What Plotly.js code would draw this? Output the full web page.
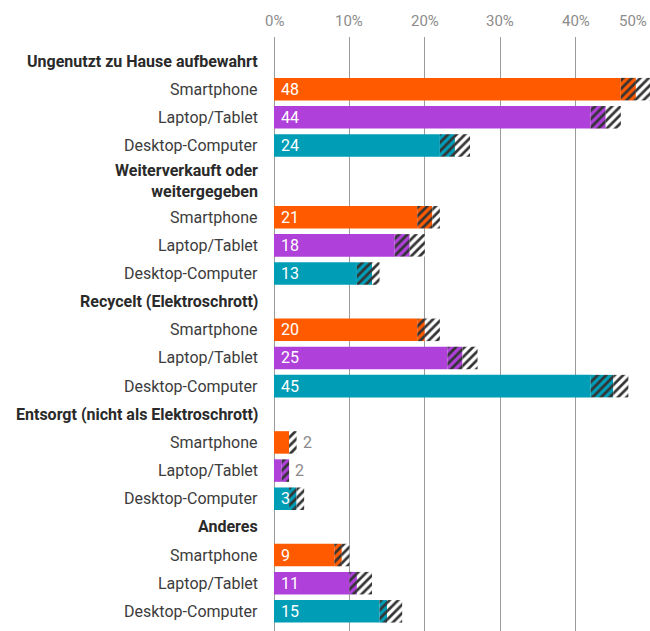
<!DOCTYPE html>
<html>
<head>
<meta charset="utf-8">
<script src="https://cdn.plot.ly/plotly-3.0.1.min.js"></script>
<style>
  html, body { margin: 0; padding: 0; background: #fff; }
  #chart { width: 650px; height: 631px; }
</style>
</head>
<body>
<div id="chart"></div>
<script>
// ---- Data ----
const groups = [
  "Ungenutzt zu Hause aufbewahrt",
  "Weiterverkauft oder\nweitergegeben",
  "Recycelt (Elektroschrott)",
  "Entsorgt (nicht als Elektroschrott)",
  "Anderes"
];
const devices = ["Smartphone", "Laptop/Tablet", "Desktop-Computer"];
const deviceColors = ["#ff5a00", "#b040da", "#009db6"];

// values (%) per group, and the lower / upper bound of each bar's range
const smartphone   = [48, 21, 20, 2, 9];
const smartphoneLo = [46, 19, 19, 2, 8];
const smartphoneHi = [50, 22, 22, 3, 10];

const laptop   = [44, 18, 25, 2, 11];
const laptopLo = [42, 16, 23, 1, 10];
const laptopHi = [46, 20, 27, 2, 13];

const desktop   = [24, 13, 45, 3, 15];
const desktopLo = [22, 11, 42, 2, 14];
const desktopHi = [26, 14, 47, 4, 17];

const tickValues = [0, 10, 20, 30, 40, 50];
const tickLabels = ["0%", "10%", "20%", "30%", "40%", "50%"];

// ---- Layout helpers ----
const W = 650, H = 631;
const M = {l: 274, r: 0, t: 37, b: 0};
const XMAX = 49.87;
const unitPx = 28.15;
const extraPerLine = 0.55;
const font = "Roboto, 'Open Sans', sans-serif";

const series = [
  {v: smartphone, lo: smartphoneLo, hi: smartphoneHi},
  {v: laptop, lo: laptopLo, hi: laptopHi},
  {v: desktop, lo: desktopLo, hi: desktopHi}
];

let pos = 0;
const headerPos = [];
const devY = devices.map(() => []);
groups.forEach((g, gi) => {
  const lines = g.split("\n");
  const extra = (lines.length - 1) * extraPerLine;
  headerPos.push(pos + extra / 2);
  pos += 1 + extra;
  devices.forEach((d, di) => {
    devY[di].push(pos);
    pos += 1;
  });
});

const yTop = -(61 - M.t) / unitPx;
const yBottom = yTop + (H - M.t - M.b) / unitPx;

const traces = [];
const annotations = [];
devices.forEach((d, di) => {
  const s = series[di], c = deviceColors[di], y = devY[di];
  const common = {type: "bar", orientation: "h", y: y, width: 0.8,
                  hoverinfo: "skip", showlegend: false};
  traces.push(Object.assign({}, common, {
    name: d + " solid", x: s.lo, base: 0,
    marker: {color: c, line: {width: 0}}
  }));
  traces.push(Object.assign({}, common, {
    name: d + " range low", x: s.v.map((v, i) => v - s.lo[i]), base: s.lo,
    marker: {color: c, line: {width: 0},
      pattern: {shape: "/", bgcolor: c, fgcolor: "#333333", fgopacity: 1, size: 6, solidity: 0.45}}
  }));
  traces.push(Object.assign({}, common, {
    name: d + " range high", x: s.hi.map((h, i) => h - s.v[i]), base: s.v,
    marker: {color: "#ffffff", line: {width: 0},
      pattern: {shape: "/", bgcolor: "#ffffff", fgcolor: "#333333", fgopacity: 1, size: 6, solidity: 0.45}}
  }));
  y.forEach((yy, gi) => {
    annotations.push({
      xref: "paper", yref: "y", x: 0, y: yy,
      xanchor: "right", yanchor: "middle", xshift: -14,
      text: d, showarrow: false,
      font: {family: font, size: 16, color: "#3c3c3c"}
    });
    const inside = s.v[gi] > 2;
    annotations.push({
      xref: "x", yref: "y", x: inside ? 0 : s.hi[gi], y: yy,
      xanchor: "left", yanchor: "middle", xshift: inside ? 5 : 4,
      text: String(s.v[gi]), showarrow: false,
      font: {family: font, size: 16, color: inside ? "#ffffff" : "#8a8a8a"}
    });
  });
});

// group headers (bold, possibly multi-line)
groups.forEach((g, gi) => {
  annotations.push({
    xref: "paper", yref: "y", x: 0, y: headerPos[gi],
    xanchor: "right", yanchor: "middle", xshift: -14, align: "right",
    text: g.split("\n").map(l => "<b>" + l + "</b>").join("<br>"),
    showarrow: false,
    font: {family: font, size: 16, color: "#2a2a2a"}
  });
});

// top tick labels
tickValues.forEach((t, i) => {
  const atEdge = t > XMAX;
  annotations.push({
    xref: "x", yref: "paper", x: atEdge ? XMAX : t, y: 1,
    xanchor: atEdge ? "right" : "center", yanchor: "middle",
    xshift: atEdge ? -1 : 0, yshift: 16,
    text: tickLabels[i], showarrow: false,
    font: {family: font, size: 15, color: "#8c8c8c"}
  });
});

const layout = {
  width: W, height: H,
  margin: M,
  paper_bgcolor: "#ffffff", plot_bgcolor: "#ffffff",
  barmode: "overlay",
  xaxis: {
    range: [0, XMAX], tickvals: tickValues.filter(t => t <= XMAX),
    showticklabels: false, showgrid: true, gridcolor: "#9a9a9a", gridwidth: 1,
    zeroline: true, zerolinecolor: "#9a9a9a", zerolinewidth: 1,
    showline: false, fixedrange: true
  },
  yaxis: {
    range: [yBottom, yTop], showticklabels: false, showgrid: false,
    zeroline: false, showline: false, fixedrange: true
  },
  annotations: annotations,
  font: {family: font}
};

Plotly.newPlot("chart", traces, layout, {displayModeBar: false, staticPlot: true});
</script>
</body>
</html>
